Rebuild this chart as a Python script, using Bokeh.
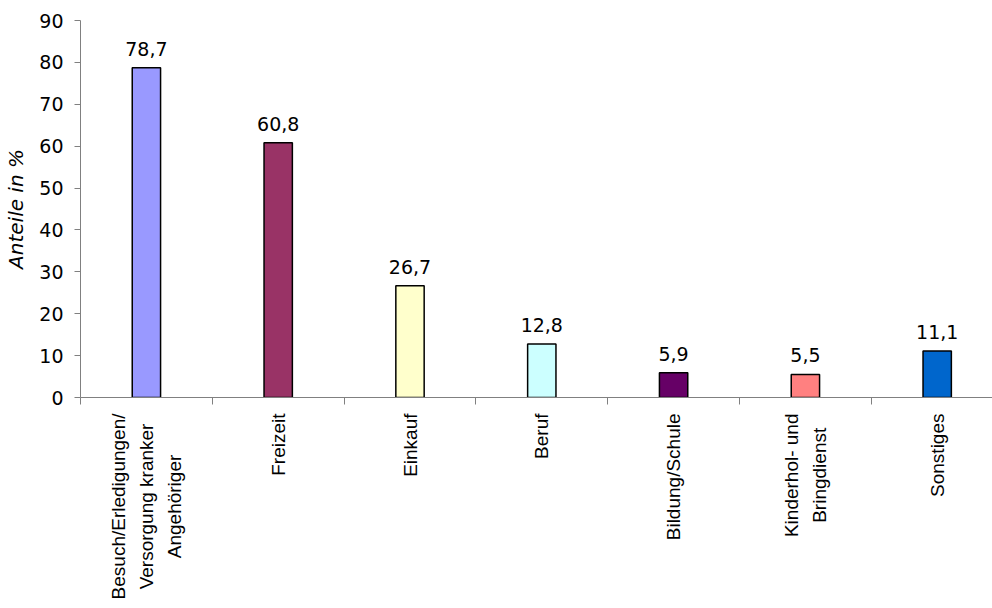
import math
from bokeh.plotting import figure
from bokeh.layouts import column
from bokeh.models import FixedTicker, Range1d, ColumnDataSource
from bokeh.core.properties import value
from bokeh.embed import file_html
from bokeh.resources import INLINE

categories = [
    "Besuch/Erledigungen/\nVersorgung kranker\nAngehöriger",
    "Freizeit",
    "Einkauf",
    "Beruf",
    "Bildung/Schule",
    "Kinderhol- und\nBringdienst",
    "Sonstiges",
]
values = [78.7, 60.8, 26.7, 12.8, 5.9, 5.5, 11.1]
value_labels = ["78,7", "60,8", "26,7", "12,8", "5,9", "5,5", "11,1"]
colors = ["#9999FF", "#993366", "#FFFFCC", "#CCFFFF", "#660066", "#FF8080", "#0066CC"]
y_ticks = [0, 10, 20, 30, 40, 50, 60, 70, 80, 90]

n = len(categories)
centers = [i + 0.5 for i in range(n)]
boundaries = [i for i in range(n + 1)]
xr = Range1d(0, 912 / 131.8)

src = ColumnDataSource(dict(x=centers, top=values, color=colors, lab=value_labels))

p = figure(width=992, height=408, output_backend="svg", toolbar_location=None,
           x_range=xr, y_range=Range1d(0, 90),
           min_border_left=80, min_border_right=0, min_border_top=20, min_border_bottom=11)
p.outline_line_color = None
p.xgrid.visible = False
p.ygrid.visible = False
p.background_fill_color = "white"
p.border_fill_color = "white"

p.vbar(x="x", top="top", width=0.215, bottom=0, fill_color="color",
       line_color="black", line_width=1.5, source=src)
p.text(x="x", y="top", text="lab", source=src, text_align="center",
       text_baseline="alphabetic", y_offset=-19, text_font=value("DejaVu Sans"),
       text_font_size="19px", text_color="black")

# x axis: tick marks at category boundaries only (labels drawn in strip below)
xa = p.xaxis[0]
xa.ticker = FixedTicker(ticks=[], minor_ticks=boundaries)
xa.major_label_standoff = 0
xa.major_tick_out = 0
xa.major_tick_in = 0
xa.minor_tick_out = 7
xa.minor_tick_in = 0
xa.minor_tick_line_color = "#808080"
xa.axis_line_color = "#808080"

# y axis
ya = p.yaxis[0]
ya.ticker = FixedTicker(ticks=y_ticks)
ya.axis_line_color = "#808080"
ya.major_tick_line_color = "#808080"
ya.major_tick_out = 6
ya.major_tick_in = 0
ya.minor_tick_out = 0
ya.minor_tick_in = 0
ya.major_label_standoff = 11
ya.major_label_text_font = "DejaVu Sans"
ya.major_label_text_font_size = "19px"
ya.major_label_text_color = "black"
ya.axis_label = "Anteile in %"
ya.axis_label_text_font = "DejaVu Sans"
ya.axis_label_text_font_style = "italic"
ya.axis_label_text_font_size = "20px"
ya.axis_label_text_color = "black"
ya.axis_label_standoff = 8

# category labels in a strip below the chart, sharing the x range
lab_src = ColumnDataSource(dict(x=centers, y=[0] * n, text=categories))
p2 = figure(width=992, height=200, output_backend="svg", toolbar_location=None,
            x_range=xr, y_range=Range1d(-200, 0),
            min_border_left=80, min_border_right=0, min_border_top=0, min_border_bottom=0,
            x_axis_location=None, y_axis_location=None)
p2.outline_line_color = None
p2.xgrid.visible = False
p2.ygrid.visible = False
p2.text(x="x", y="y", text="text", source=lab_src, angle=math.pi / 2,
        anchor=value("center_right"), text_align="center", y_offset=5,
        text_font=value("Liberation Sans"), text_font_size="19px",
        text_color="black", text_line_height=1.35)

layout = column(p, p2, spacing=0)
open("out.html", "w").write(file_html(layout, INLINE))
